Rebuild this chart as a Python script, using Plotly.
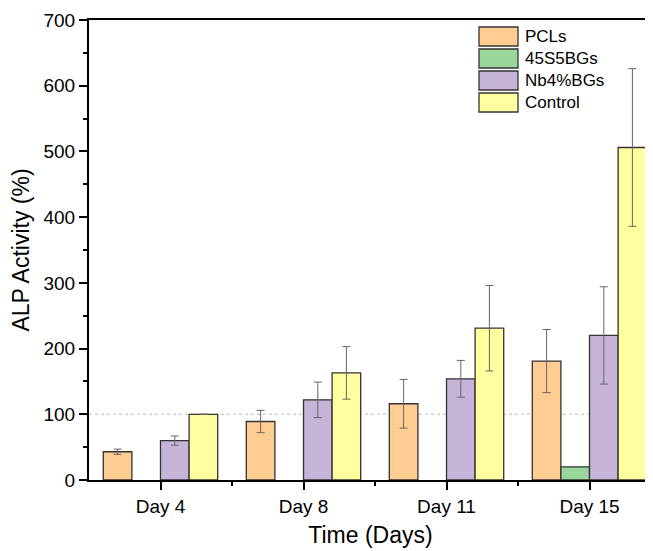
import plotly.graph_objects as go

days = ["Day 4", "Day 8", "Day 11", "Day 15"]
series_names = ["PCLs", "45S5BGs", "Nb4%BGs", "Control"]
pcl = [43, 89, 116, 181]
pcl_err = [4, 17, 37, 48]
bg45 = [None, None, None, 20]
bg45_err = [None, None, None, 0]
nb4 = [60, 122, 154, 220]
nb4_err = [7, 27, 28, 74]
control = [100, 163, 231, 506]
control_err = [0, 40, 65, 120]
yticks = [0, 100, 200, 300, 400, 500, 600, 700]

colors = ["#FFCC91", "#99D69A", "#C5B3D8", "#FFFF9F"]
values = [pcl, bg45, nb4, control]
errors = [pcl_err, bg45_err, nb4_err, control_err]

xpos = list(range(len(days)))
FONT = "Liberation Sans, Arial, sans-serif"

fig = go.Figure()
for name, vals, errs, col in zip(series_names, values, errors, colors):
    show_err = name != "45S5BGs"
    fig.add_trace(go.Bar(
        x=xpos, y=vals, name=name,
        marker=dict(color=col, line=dict(color="#333333", width=1.3)),
        error_y=dict(type="data", array=errs, visible=show_err,
                     color="#666666", thickness=1, width=4),
        showlegend=False,
    ))

# dotted reference line at 100
fig.add_shape(type="line", xref="paper", yref="y", x0=0, x1=1, y0=100, y1=100,
              line=dict(color="#BBBBBB", width=1, dash="dot"), layer="below")

# page body has an 8px margin: figure is sized/offset to compensate
OFF = 8
W, H = 653 - OFF, 551 - OFF
ml, mr, mt, mb = 89 - OFF, 1, 20 - OFF, 71
pw, ph = W - ml - mr, H - mt - mb

def px2paper_x(px):
    return (px - OFF - ml) / pw

def px2paper_y(py):
    return 1 - (py - OFF - mt) / ph

# custom legend (boxes + labels), positions in page pixels
box_x0, box_x1 = 479, 518
box_tops = [27, 49, 71, 93]
for name, col, top in zip(series_names, colors, box_tops):
    fig.add_shape(type="rect", xref="paper", yref="paper",
                  x0=px2paper_x(box_x0), x1=px2paper_x(box_x1),
                  y0=px2paper_y(top + 19), y1=px2paper_y(top),
                  fillcolor=col, line=dict(color="#333333", width=1.3))
    fig.add_annotation(xref="paper", yref="paper",
                       x=px2paper_x(523), y=px2paper_y(top + 9.5),
                       text=name, showarrow=False, xanchor="left", yanchor="middle",
                       font=dict(family=FONT, size=17, color="#000000"))

fig.update_layout(
    width=W, height=H,
    margin=dict(l=ml, r=mr, t=mt, b=mb, autoexpand=False),
    paper_bgcolor="white", plot_bgcolor="white",
    barmode="group", bargap=0.2, bargroupgap=0,
    font=dict(family=FONT, color="#000000"),
)
fig.update_xaxes(
    automargin=False,
    range=[-0.5, 3.437], tickvals=xpos, ticktext=days,
    ticks="outside", ticklen=8, tickwidth=2, tickcolor="#000000",
    minor=dict(tickvals=[0.5, 1.5, 2.5], ticks="outside", ticklen=4, tickwidth=2, tickcolor="#000000"),
    showline=True, linewidth=2, linecolor="#000000", mirror=True,
    showgrid=False, zeroline=False,
    tickfont=dict(family=FONT, size=19),
    title=dict(text="Time (Days)", font=dict(family=FONT, size=23), standoff=11),
)
fig.update_yaxes(
    automargin=False,
    range=[0, 700], tickvals=yticks,
    ticks="outside", ticklen=8, tickwidth=2, tickcolor="#000000",
    minor=dict(dtick=50, ticks="outside", ticklen=4, tickwidth=2, tickcolor="#000000"),
    showline=True, linewidth=2, linecolor="#000000",
    showgrid=False, zeroline=False,
    tickfont=dict(family=FONT, size=19),
    title=dict(text="ALP Activity (%)", font=dict(family=FONT, size=23), standoff=8),
)
fig.write_html("out.html")
